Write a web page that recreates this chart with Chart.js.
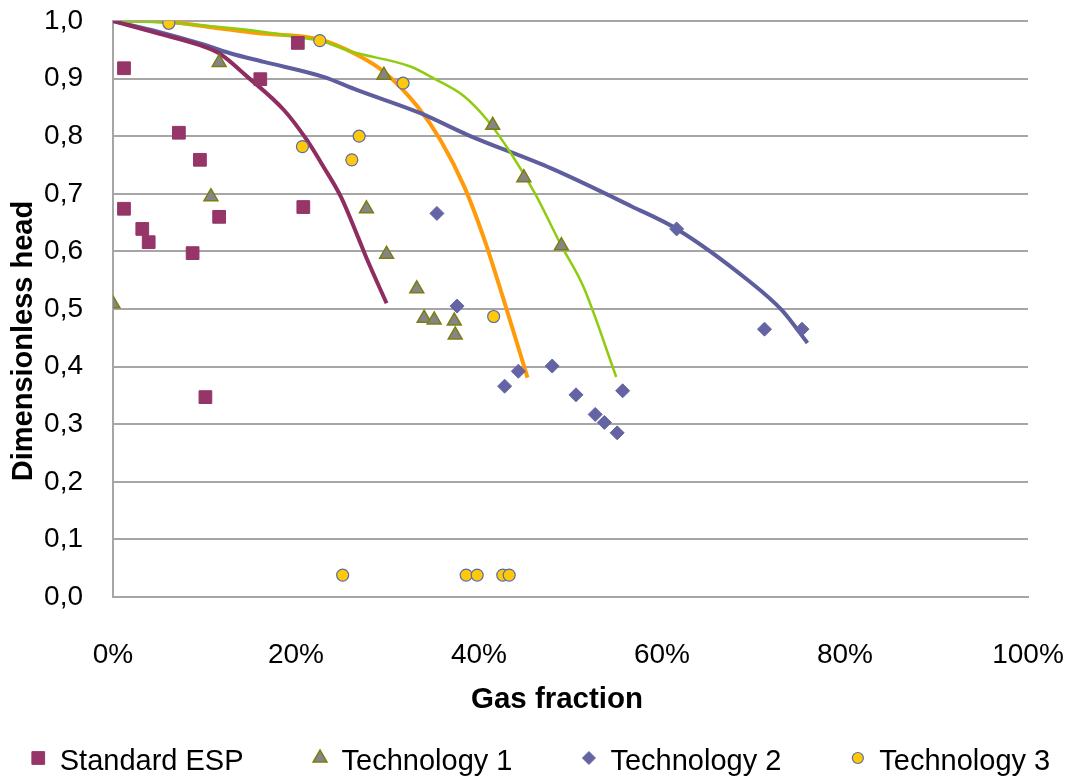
<!DOCTYPE html>
<html>
<head>
<meta charset="utf-8">
<script src="https://cdn.jsdelivr.net/npm/chart.js@4.4.1/dist/chart.umd.min.js"></script>
<style>
  html, body { margin: 0; padding: 0; background: #fff; }
  #wrap { width: 1074px; height: 777px; }
</style>
</head>
<body>
<div id="wrap"><canvas id="myChart"></canvas></div>
<script>
// measured points: [gas fraction %, dimensionless head]
const std_esp = [
    [1.2, 0.918], [20.2, 0.962], [16.1, 0.899], [7.2, 0.806], [9.5, 0.759],
    [11.6, 0.660], [1.2, 0.674], [3.2, 0.639], [3.9, 0.616], [8.7, 0.597],
    [20.8, 0.677], [10.1, 0.347]
];
const tech1 = [
    [0.0, 0.509], [11.6, 0.928], [10.7, 0.695], [27.7, 0.674], [29.9, 0.595],
    [29.6, 0.906], [41.5, 0.819], [44.9, 0.728], [49.0, 0.610], [33.2, 0.535],
    [34.0, 0.484], [35.1, 0.481], [37.3, 0.479], [37.4, 0.455]
];
const tech2 = [
    [35.4, 0.666], [37.6, 0.505], [44.3, 0.392], [42.8, 0.366], [48.0, 0.401],
    [50.6, 0.351], [52.7, 0.317], [53.7, 0.303], [55.1, 0.285], [55.7, 0.358],
    [61.6, 0.639], [71.2, 0.465], [75.3, 0.465]
];
const tech3 = [
    [6.1, 0.996], [22.6, 0.966], [31.7, 0.892], [26.9, 0.800], [20.7, 0.782],
    [26.1, 0.759], [41.6, 0.487], [25.1, 0.038], [38.6, 0.038], [39.8, 0.038],
    [42.6, 0.038], [43.3, 0.038]
];

// trend curves
const trend_std = [
    [0, 1.0], [4.8, 0.979], [9.5, 0.958], [11.6, 0.944], [14.7, 0.903], [18.7, 0.845],
    [21.2, 0.793], [23.0, 0.747], [24.9, 0.695], [26.9, 0.620], [27.8, 0.585], [29.9, 0.51]
];
const trend_t1 = [
    [0, 1.0], [5.9, 0.997], [13.9, 0.986], [19.4, 0.974], [23.0, 0.964], [26.0, 0.947],
    [32.5, 0.921], [35.1, 0.900], [38.4, 0.869], [40.9, 0.828], [43.5, 0.770],
    [46.1, 0.701], [49.0, 0.610], [51.4, 0.539], [55.0, 0.382]
];
const trend_t2 = [
    [0, 1.0], [4.8, 0.982], [9.5, 0.961], [12.8, 0.944], [16.5, 0.929], [23.0, 0.903],
    [26.7, 0.880], [33.6, 0.840], [38.8, 0.802], [47.9, 0.744], [56.7, 0.678],
    [61.6, 0.639], [69.4, 0.550], [73.1, 0.498], [75.9, 0.441]
];
const trend_t3 = [
    [0, 1.0], [4.8, 1.0], [10.3, 0.990], [15.7, 0.979], [22.6, 0.968], [26.7, 0.941],
    [29.6, 0.912], [33.3, 0.851], [35.8, 0.793], [38.4, 0.712], [40.6, 0.620],
    [42.6, 0.521], [45.3, 0.381]
];

const labels = ["Standard ESP", "Technology 1", "Technology 2", "Technology 3"];
const x_ticks = [0, 20, 40, 60, 80, 100];
const x_title = "Gas fraction";
const y_title = "Dimensionless head";

function toXY(arr) {
    return arr.map(p => ({ x: p[0], y: p[1] }));
}

function trendLine(arr, color, width) {
    return {
        type: "line",
        data: toXY(arr),
        borderColor: color,
        borderWidth: width,
        pointRadius: 0,
        showLine: true,
        fill: false,
        cubicInterpolationMode: "monotone",
        order: 2,
    };
}

const font_name = "'Liberation Sans', 'DejaVu Sans', sans-serif";

// axis titles placed by hand (the original sits a bit off-centre)
const axisTitles = {
    id: "axisTitles",
    afterDraw(chart) {
        const c = chart.ctx;
        c.save();
        c.fillStyle = "#000";
        c.textAlign = "center";
        c.textBaseline = "middle";
        c.font = "bold 29.5px " + font_name;
        c.fillText(x_title, 557, 700);
        c.translate(24, 341);
        c.rotate(-Math.PI / 2);
        c.font = "bold 29px " + font_name;
        c.fillText(y_title, 0, 0);
        c.restore();
    },
};

// legend drawn by hand so the spacing can be wide but the band stays short
const bottomLegend = {
    id: "bottomLegend",
    afterDraw(chart) {
        const c = chart.ctx;
        const legR = [9, 8, 6.5, 5.5];
        c.save();
        c.font = "29px " + font_name;
        c.textBaseline = "alphabetic";
        const box = 13, gapIn = 15, gapOut = 70;
        let total = 0;
        const widths = labels.map(t => c.measureText(t).width);
        widths.forEach(w => { total += box + gapIn + w; });
        total += gapOut * (labels.length - 1);
        let x = 541 - total / 2;
        const yMark = 758, yText = 770;
        labels.forEach((t, i) => {
            const ds = chart.data.datasets[i];
            c.fillStyle = ds.backgroundColor;
            c.strokeStyle = ds.borderColor;
            c.lineWidth = ds.borderWidth;
            Chart.helpers.drawPoint(c, {
                pointStyle: ds.pointStyle,
                radius: legR[i],
                rotation: 0,
                borderWidth: ds.borderWidth,
            }, x + box / 2, yMark);
            c.fillStyle = "#000";
            c.fillText(t, x + box + gapIn, yText);
            x += box + gapIn + widths[i] + gapOut;
        });
        c.restore();
    },
};

const config = {
    type: "scatter",
    data: {
        datasets: [
            {
                label: labels[0],
                data: toXY(std_esp),
                pointStyle: "rect",
                pointRadius: 9,
                backgroundColor: "#953568",
                borderColor: "#953568",
                borderWidth: 1,
                order: 1,
            },
            {
                label: labels[1],
                data: toXY(tech1),
                pointStyle: "triangle",
                pointRadius: 8,
                backgroundColor: "#858585",
                borderColor: "#7d7d12",
                borderWidth: 1.5,
                order: 1,
            },
            {
                label: labels[2],
                data: toXY(tech2),
                pointStyle: "rectRot",
                pointRadius: 7,
                backgroundColor: "#6464a4",
                borderColor: "#6464a4",
                borderWidth: 1,
                order: 1,
            },
            {
                label: labels[3],
                data: toXY(tech3),
                pointStyle: "circle",
                pointRadius: 6,
                backgroundColor: "#ffc90a",
                borderColor: "#5b6ba6",
                borderWidth: 1.2,
                order: 1,
            },
            trendLine(trend_std, "#8f2d60", 4),
            trendLine(trend_t1, "#8fcc10", 2.5),
            trendLine(trend_t2, "#5e5e9e", 4),
            trendLine(trend_t3, "#ff9a0a", 4),
        ],
    },
    plugins: [axisTitles, bottomLegend],
    options: {
        responsive: true,
        maintainAspectRatio: false,
        animation: false,
        layout: {
            padding: { top: 21, right: 46, bottom: 59, left: 0 },
        },
        plugins: {
            tooltip: { enabled: false },
            legend: { display: false },
        },
        scales: {
            x: {
                type: "linear",
                min: 0,
                max: 100,
                afterBuildTicks: (scale) => {
                    scale.ticks = x_ticks.map(v => ({ value: v }));
                },
                afterFit: (scale) => {
                    scale.height = 121;
                    scale.paddingLeft = 0;
                    scale.paddingRight = 0;
                },
                ticks: {
                    color: "#000",
                    padding: 41,
                    font: { family: font_name, size: 28 },
                    callback: (v) => v + "%",
                },
                grid: { display: false, drawTicks: false },
                border: { display: true, color: "#a6a6a6", width: 2 },
            },
            y: {
                min: 0,
                max: 1,
                afterFit: (scale) => {
                    scale.width = 113;
                    scale.paddingTop = 0;
                    scale.paddingBottom = 0;
                },
                ticks: {
                    stepSize: 0.1,
                    color: "#000",
                    padding: 30,
                    font: { family: font_name, size: 28 },
                    callback: (v) => v.toFixed(1).replace(".", ","),
                },
                grid: { color: "#a6a6a6", lineWidth: 2, drawTicks: false },
                border: { display: true, color: "#a6a6a6", width: 2 },
            },
        },
    },
};

const ctx = document.getElementById("myChart").getContext("2d");
const chart = new Chart(ctx, config);
</script>
</body>
</html>
